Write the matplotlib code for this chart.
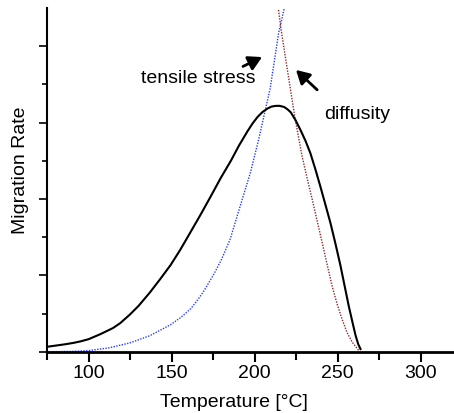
import matplotlib
matplotlib.use('Agg')
import matplotlib.pyplot as plt

plt.rcParams['font.family'] = ['Liberation Sans', 'DejaVu Sans']

# migration rate (black solid)
t_rate = [75, 80, 85, 90.6, 95, 100, 107, 114.6, 119, 124.7, 130, 136.8, 143, 149.3, 155, 161.4,
          167.5, 173.5, 179.5, 185.6, 190.5, 195.7, 198.7, 201.7, 204.7, 207.7, 210, 212.7, 215,
          217.7, 219.7, 221.7, 224.5, 227.4, 230.5, 233.5, 236.5, 239.5, 242.5, 245.6, 248.6,
          251.6, 254, 256.6, 258.7, 260.7, 262.3, 263.7]
rate = [0.13, 0.16, 0.19, 0.23, 0.27, 0.33, 0.46, 0.62, 0.75, 0.97, 1.2, 1.55, 1.9, 2.27, 2.66, 3.14,
        3.6, 4.07, 4.55, 5.0, 5.4, 5.78, 5.98, 6.15, 6.28, 6.37, 6.42, 6.44, 6.44,
        6.41, 6.35, 6.27, 6.07, 5.82, 5.53, 5.2, 4.78, 4.33, 3.86, 3.37, 2.83,
        2.26, 1.75, 1.2, 0.8, 0.43, 0.2, 0.07]

# tensile stress (blue dotted)
t_stress = [75, 90, 100, 112, 124.7, 136.8, 149.4, 155.5, 161.5, 165.5, 169.5, 175.6, 180, 185.2,
            191.2, 197.3, 202.3, 206.4, 209.3, 211.3, 214.3, 217.8]
stress = [0, 0.01, 0.03, 0.1, 0.23, 0.42, 0.71, 0.9, 1.13, 1.35, 1.6, 2.05, 2.42, 2.95,
          3.81, 4.68, 5.55, 6.34, 6.9, 7.47, 8.33, 9.0]

# diffusity (dark red dotted)
t_diff = [214.3, 216, 218.5, 221.4, 224.4, 228.5, 231.5, 234.6, 237.6, 240.6, 243.6, 246.6,
          249.6, 252.6, 255.6, 258.7, 262.7]
diff = [8.95, 8.4, 7.7, 6.9, 6.08, 5.12, 4.55, 3.99, 3.42, 2.86, 2.28, 1.72,
        1.25, 0.85, 0.5, 0.25, 0.03]

fig = plt.figure(figsize=(4.54, 4.14), dpi=100)
ax = fig.add_axes([0.104, 0.148, 0.896, 0.83])

ax.plot(t_stress, stress, color='#2a3cff', ls=(0, (1, 1)), lw=1.0)
ax.plot(t_diff, diff, color='#8a2a2a', ls=(0, (1, 1)), lw=1.0)
ax.plot(t_rate, rate, color='black', lw=1.5)

ax.set_xlim(75, 320)
ax.set_ylim(0, 9)
ax.set_xticks([100, 150, 200, 250, 300])
ax.set_xticks([75, 125, 175, 225, 275], minor=True)
ax.set_yticks([0, 2, 4, 6, 8])
ax.set_yticks([1, 3, 5, 7], minor=True)
ax.set_yticklabels([])
ax.tick_params(axis='x', which='major', length=7, width=1.5, labelsize=14, pad=2)
ax.tick_params(axis='x', which='minor', length=6, width=1.5)
ax.tick_params(axis='y', which='major', length=6, width=1.2)
ax.tick_params(axis='y', which='minor', length=3.6, width=1.2)
for s in ['top', 'right']:
    ax.spines[s].set_visible(False)
ax.spines['left'].set_linewidth(1.5)
ax.spines['bottom'].set_linewidth(2)

ax.set_xlabel('Temperature [°C]', fontsize=14)
ax.xaxis.set_label_coords(0.459, -0.12)
ax.set_ylabel('Migration Rate', fontsize=14)
ax.yaxis.set_label_coords(-0.044, 0.532)

arrow = dict(arrowstyle='-|>,head_length=0.8,head_width=0.45', color='black', lw=2)
ax.annotate('', xy=(205.9, 7.75), xytext=(191.4, 7.44), arrowprops=arrow)
ax.text(200.4, 7.18, 'tensile stress', fontsize=14, ha='right', va='center')
ax.annotate('', xy=(223.6, 7.43), xytext=(238.8, 6.81), arrowprops=arrow)
ax.text(241.8, 6.25, 'diffusity', fontsize=14, ha='left', va='center')

fig.savefig('out.png', dpi=100)
